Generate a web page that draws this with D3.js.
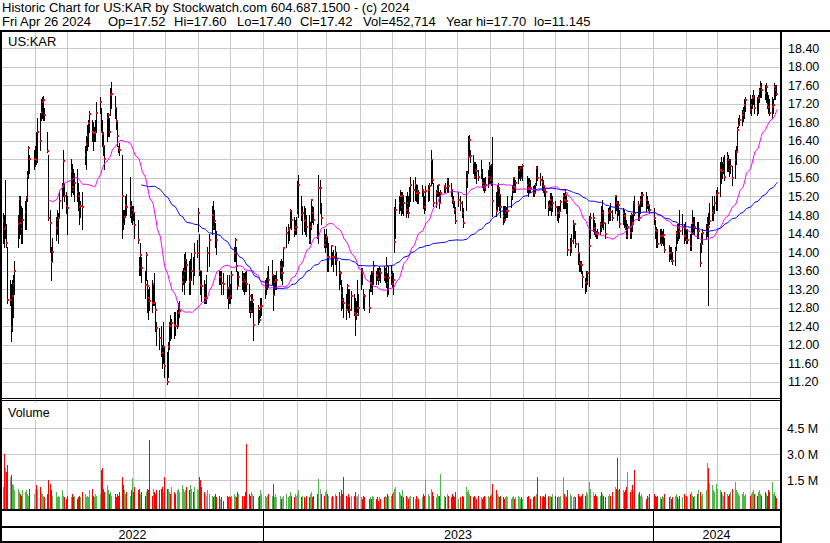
<!DOCTYPE html>
<html><head><meta charset="utf-8">
<script src="https://cdn.jsdelivr.net/npm/d3@7"></script>
<style>
body{margin:0;background:#fff;}
svg{display:block;font-family:"Liberation Sans",Arial,sans-serif;}
</style></head><body>
<svg id="c" width="830" height="543"></svg>
<script>
// ---------- DATA ----------
const holidays = ["2022-05-30","2022-06-20","2022-07-04","2022-09-05","2022-11-24","2022-12-26",
"2023-01-02","2023-01-16","2023-02-20","2023-04-07","2023-05-29","2023-06-19","2023-07-04","2023-09-04","2023-11-23","2023-12-25",
"2024-01-01","2024-01-15","2024-02-19","2024-03-29"];
const firstDay = "2022-05-02", lastDay = "2024-04-26";
const axisStart = "2022-05-01", axisEnd = "2024-04-28";

const highs = [
14.85,14.8,15.56,14.6,14.1,13.4,13.3,13.4,13.5,13.8,14.8,15.2,15.2,15.0,14.95,15.1,15.2,15.75,16.3,16.1,16.2,
16.3,16.6,16.9,17.0,17.3,17.35,17.36,17.1,16.6,16.1,14.9,14.1,14.3,14.75,14.9,14.85,15.3,15.5,16.2,15.5,15.3,
15.2,16.0,15.9,15.8,15.7,15.8,15.5,15.3,15.1,15.3,16.3,16.5,16.75,16.85,17.05,16.85,16.8,16.7,16.85,17.25,
17.35,17.1,16.85,16.6,16.3,17.0,17.0,16.9,17.55,17.68,17.36,17.1,16.8,16.3,16.35,16.1,14.9,14.9,15.2,15.25,15.63,15.1,15.0,
15.0,14.85,14.7,13.9,14.2,13.9,13.6,14.0,13.4,13.2,13.25,13.4,13.3,13.55,12.9,12.5,12.35,12.4,12.0,12.5,11.95,
11.85,12.05,12.5,12.65,12.55,12.7,12.7,12.75,12.9,12.95,13.6,13.65,13.95,14.0,13.84,13.8,13.84,13.98,13.9,14.2,14.26,
14.95,14.4,13.6,13.6,13.4,13.3,13.5,14.1,14.4,15.0,15.1,14.9,14.62,14.45,13.6,13.6,13.6,13.55,13.5,13.2,13.5,
13.3,13.6,14.1,14.3,14.1,13.6,13.56,13.6,13.55,13.55,13.56,13.6,13.3,12.95,13.1,13.1,12.9,12.86,12.75,13.0,13.0,
13.4,13.45,13.6,13.7,13.82,13.5,13.5,13.5,13.6,13.8,13.85,13.8,14.1,14.55,14.6,14.55,14.92,14.9,14.75,14.7,
14.75,15.53,15.67,15.2,15.0,15.0,14.95,14.8,14.8,14.65,15.15,15.0,14.98,14.6,15.67,15.55,15.05,14.5,14.4,
14.5,14.3,14.2,14.15,14.0,14.05,14.12,14.0,13.8,13.6,13.4,13.25,13.0,13.1,13.3,13.2,13.2,13.15,13.1,13.0,12.95,13.4,13.1,
13.65,13.65,13.2,13.1,13.2,13.5,13.6,13.6,13.8,13.6,13.65,13.65,13.7,13.65,13.7,13.65,13.9,13.55,13.7,
13.7,13.6,13.55,14.98,15.15,15.2,15.35,15.3,15.3,15.2,15.2,15.3,15.2,15.4,15.63,15.56,15.63,15.45,15.45,15.35,15.45,15.35,
15.2,15.42,15.45,15.5,16.2,15.98,15.5,15.35,15.45,15.45,15.3,15.34,15.45,15.5,15.6,15.6,15.5,15.35,15.2,15.1,14.98,
15.3,15.2,15.1,14.95,15.75,15.75,16.5,16.52,16.2,16.1,15.95,15.95,15.9,15.78,15.98,15.8,15.6,15.6,15.63,15.78,
15.95,15.85,15.9,16.49,15.3,15.45,15.5,15.4,15.24,15.0,15.0,15.0,14.98,15.2,15.2,15.45,15.63,15.6,15.56,15.85,15.85,15.85,15.85,
15.9,15.65,15.6,15.6,15.55,15.42,15.45,15.5,15.85,15.85,15.7,15.65,15.56,15.4,15.34,15.1,15.13,15.27,15.27,15.2,
15.1,15.0,15.0,15.0,15.13,15.27,15.27,15.34,15.2,15.06,14.3,14.38,14.7,14.62,14.45,14.2,13.95,13.8,13.8,13.6,13.45,13.6,
13.6,14.78,14.85,14.85,14.7,14.62,14.45,14.5,14.65,15.0,15.13,14.9,14.62,14.95,14.98,15.06,14.9,15.24,15.2,15.1,15.1,
14.9,14.95,14.9,14.84,14.7,14.6,14.8,14.84,14.8,15.1,15.2,15.1,15.0,15.2,15.3,15.3,15.3,15.2,15.1,15.0,
14.95,14.7,14.55,14.5,14.5,14.5,14.45,14.5,14.3,14.15,14.1,14.1,14.0,14.1,14.45,14.6,14.6,14.9,14.82,14.6,14.65,
14.5,14.5,14.4,14.6,14.9,14.75,14.75,14.65,14.65,14.2,14.41,14.5,14.6,14.75,14.84,15.06,15.2,15.0,15.2,15.35,
15.4,15.95,16.05,15.95,16.05,16.1,16.15,16.1,16.0,16.0,15.85,16.2,16.3,16.7,16.9,16.96,17.06,17.13,17.3,17.35,
17.4,17.3,17.4,17.5,17.4,17.35,17.4,17.55,17.7,17.65,17.6,17.65,17.45,17.4,17.3,17.35,17.3,17.66,17.6,17.6];

const lows = [
14.2,14.1,14.3,14.1,12.9,12.85,12.07,12.3,12.6,13.1,14.1,14.3,14.4,14.2,14.2,14.5,14.5,15.1,15.6,15.7,15.8,
15.85,15.9,15.95,16.2,16.85,16.9,16.85,16.85,16.15,14.7,14.0,13.4,13.8,14.25,14.4,14.2,14.75,14.95,15.2,15.1,14.85,
14.4,15.2,15.3,15.25,15.1,15.1,14.9,14.6,14.75,14.5,15.9,15.8,16.2,16.3,16.6,16.4,16.2,16.4,16.4,16.6,
17.0,16.6,16.3,16.1,15.8,16.4,16.5,16.5,16.95,17.1,16.9,16.65,16.3,16.15,16.1,14.3,14.5,14.6,14.75,14.8,14.75,14.65,14.6,
14.7,14.3,14.2,13.5,13.5,13.35,13.0,13.4,12.7,12.55,12.75,12.7,12.85,12.85,12.3,12.0,11.9,11.75,11.5,11.6,11.3,
11.15,11.3,11.9,12.1,12.15,12.15,12.2,12.35,12.4,12.6,13.15,13.3,13.1,13.35,13.4,13.1,13.1,13.4,13.3,13.5,13.9,
14.45,13.5,13.1,12.95,12.9,12.9,12.9,13.6,13.7,14.4,14.5,14.5,14.1,13.95,13.3,13.3,13.1,13.1,13.0,12.8,12.9,
12.9,13.0,13.8,13.8,13.6,13.2,13.3,13.2,13.15,13.1,13.15,13.15,12.7,12.6,12.7,12.7,12.1,12.45,12.5,12.6,12.65,
13.0,13.1,13.2,13.25,13.3,12.75,13.1,13.2,13.2,13.45,13.4,13.3,13.7,14.1,14.2,14.25,14.55,14.5,14.35,14.4,
14.4,14.85,14.75,14.7,14.4,14.45,14.4,14.35,14.2,14.2,14.5,14.65,14.6,14.3,14.19,14.85,14.6,14.1,14.0,
14.1,13.6,13.6,13.7,13.75,13.6,13.75,13.5,13.2,13.3,12.75,12.8,12.6,12.55,12.8,12.7,12.6,12.75,12.65,12.21,12.55,12.7,12.65,
13.2,13.3,12.8,12.75,12.7,13.15,13.15,13.1,13.3,13.3,13.4,13.3,13.4,13.35,13.4,13.35,13.25,13.05,13.1,
13.3,13.25,13.1,14.0,14.3,14.85,14.9,14.8,14.85,14.8,14.75,14.85,14.75,15.0,15.1,15.1,15.13,15.1,15.06,15.06,15.2,14.95,
14.84,14.9,15.1,15.13,15.45,15.5,15.0,14.98,15.2,15.2,14.95,15.1,15.3,15.3,15.3,15.3,15.2,15.05,14.98,14.84,14.62,
15.0,14.9,14.75,14.55,14.9,15.4,15.7,16.1,15.95,15.7,15.6,15.6,15.5,15.55,15.6,15.4,15.35,15.3,15.35,15.4,
15.5,15.5,15.45,14.77,14.77,14.9,15.0,14.9,14.75,14.6,14.65,14.7,14.75,14.75,14.98,15.15,15.3,15.3,15.3,15.5,15.6,15.56,15.6,
15.55,15.3,15.2,15.3,15.3,15.2,15.2,15.3,15.45,15.55,15.45,15.35,15.3,15.2,14.95,14.8,14.9,14.9,14.8,14.88,
14.8,14.7,14.65,14.75,14.9,14.95,14.95,14.95,14.85,13.94,13.94,14.0,14.2,14.3,14.1,13.75,13.6,13.6,13.55,13.25,13.11,13.15,
13.3,13.26,14.3,14.45,14.4,14.35,14.3,14.3,14.4,14.45,14.55,14.5,14.3,14.62,14.7,14.7,14.7,14.84,14.9,14.7,14.8,
14.55,14.6,14.55,14.5,14.3,14.3,14.3,14.3,14.45,14.6,14.8,14.7,14.7,14.85,15.0,15.0,14.88,14.95,14.9,14.84,
14.6,14.3,14.1,14.1,14.2,14.15,14.2,14.15,14.0,13.8,13.85,13.8,13.75,13.72,14.05,14.2,14.25,14.3,14.4,14.2,14.25,
14.2,14.2,14.05,14.05,14.4,14.4,14.4,14.3,14.3,13.69,14.0,14.2,14.3,14.35,12.86,14.6,14.7,14.7,14.84,14.9,
14.9,15.2,15.5,15.6,15.7,15.55,15.75,15.75,15.65,15.7,15.45,15.6,15.9,16.2,16.7,16.75,16.75,16.84,16.9,17.05,
17.0,16.95,17.1,17.2,17.0,16.95,17.0,17.25,17.35,17.35,17.3,17.25,17.1,17.0,16.95,16.9,17.0,17.3,17.3,17.4];

const closes = [
14.66,14.5,14.55,14.2,12.97,12.97,12.36,13.04,13.3,13.6,14.6,15.14,14.62,14.5,14.7,14.86,15.16,15.65,16.24,16.0,16.0,
16.0,15.99,16.6,16.4,17.0,17.25,17.29,16.97,16.19,14.73,14.62,13.78,14.0,14.52,14.7,14.73,15.11,15.42,15.96,15.2,15.0,
14.95,15.76,15.4,15.35,15.5,15.3,15.2,14.98,15.0,14.98,16.1,16.33,16.5,16.78,16.98,16.59,16.57,16.58,16.6,17.0,
17.25,16.6,16.55,16.3,16.0,16.9,16.96,16.6,17.39,17.41,17.1,16.82,16.5,16.24,16.2,15.2,14.6,14.75,15.02,14.98,15.0,14.8,14.9,
14.85,14.59,14.26,13.67,13.93,13.65,13.29,13.94,13.26,13.0,12.95,12.9,13.3,12.9,12.75,12.36,12.14,11.96,11.82,11.96,11.53,
11.2,11.96,12.43,12.4,12.46,12.43,12.4,12.43,12.68,12.72,13.36,13.47,13.58,13.83,13.72,13.36,13.4,13.58,13.55,13.98,13.98,
14.84,13.6,13.29,13.26,13.0,13.0,13.0,13.98,14.26,14.8,14.55,14.66,14.4,14.26,13.47,13.47,13.33,13.3,13.22,13.0,13.22,
13.04,13.5,13.98,14.26,13.7,13.26,13.47,13.36,13.47,13.4,13.36,13.3,13.04,12.72,12.97,12.97,12.43,12.79,12.54,12.82,12.84,
13.2,13.3,13.49,13.4,13.5,13.08,13.36,13.4,13.4,13.67,13.55,13.55,14.08,14.41,14.48,14.52,14.88,14.7,14.48,14.55,
14.55,14.91,15.45,14.8,14.84,14.66,14.7,14.55,14.26,14.55,15.13,14.84,14.7,14.33,15.38,15.38,14.73,14.15,14.26,
14.33,13.9,13.9,14.12,13.9,13.9,13.98,13.83,13.55,13.55,13.11,12.97,12.9,12.75,13.26,12.86,12.75,13.04,12.68,12.65,12.65,12.79,12.79,
13.62,13.55,13.08,13.04,12.79,13.33,13.2,13.56,13.7,13.5,13.49,13.42,13.6,13.55,13.47,13.6,13.7,13.33,13.44,
13.5,13.3,13.4,14.21,14.91,15.06,15.2,14.98,15.2,15.06,14.9,15.06,14.84,15.27,15.45,15.35,15.45,15.27,15.31,15.27,15.34,15.3,
14.98,15.31,15.34,15.42,15.98,15.56,15.06,15.27,15.34,15.45,15.06,15.27,15.42,15.38,15.56,15.42,15.34,15.13,15.09,14.91,14.66,
15.13,15.06,14.84,14.62,15.56,15.7,16.05,16.42,16.08,15.92,15.63,15.77,15.74,15.63,15.7,15.49,15.42,15.38,15.45,15.63,
15.85,15.56,15.6,15.1,14.88,15.35,15.38,15.24,14.98,14.77,14.7,14.84,14.88,14.88,15.16,15.35,15.6,15.4,15.5,15.78,15.78,15.81,15.6,
15.85,15.45,15.38,15.49,15.38,15.3,15.27,15.45,15.81,15.6,15.56,15.52,15.42,15.34,15.3,14.98,15.02,15.13,14.98,15.06,
14.98,14.84,14.84,14.88,15.09,15.2,15.13,15.24,15.1,14.05,14.09,14.23,14.61,14.61,14.17,13.98,13.76,13.74,13.72,13.47,13.33,13.36,
13.55,14.14,14.73,14.73,14.52,14.41,14.39,14.41,14.61,14.55,14.84,14.62,14.39,14.84,14.88,14.86,14.73,15.2,15.06,14.84,15.02,
14.61,14.84,14.77,14.53,14.35,14.55,14.41,14.8,14.62,15.05,14.85,15.02,14.73,15.13,15.24,15.24,15.13,15.02,15.02,14.91,
14.73,14.48,14.45,14.17,14.34,14.19,14.34,14.37,14.05,13.98,13.98,13.83,13.8,14.05,14.41,14.34,14.52,14.45,14.55,14.34,14.34,
14.27,14.27,14.12,14.41,14.62,14.41,14.55,14.41,14.45,13.76,14.17,14.41,14.45,14.62,14.55,14.66,14.84,14.88,15.06,15.24,
15.27,15.78,15.74,15.74,15.92,15.63,16.06,15.99,15.77,15.85,15.6,15.99,16.17,16.64,16.75,16.85,16.96,17.03,17.18,17.29,
17.07,17.18,17.32,17.36,17.1,17.03,17.32,17.47,17.57,17.5,17.43,17.57,17.18,17.14,17.0,17.14,17.18,17.57,17.5,17.42];

// volume in millions of shares
const volumes = [
1.1,3.0,2.2,2.0,2.4,1.7,1.8,1.3,1.2,0.9,1.0,0.8,0.7,0.6,0.9,0.8,0.9,0.7,0.6,1.0,0.7,
0.9,1.2,1.0,1.1,0.8,0.7,0.6,0.5,0.7,1.5,1.3,0.9,0.6,0.8,0.5,0.6,0.5,0.9,0.6,0.5,0.4,
0.6,0.5,0.7,0.5,0.6,0.4,0.5,0.6,0.5,0.8,0.7,0.5,0.6,0.5,0.9,1.0,0.6,0.5,0.7,0.6,
0.7,2.1,2.2,1.0,0.8,1.2,0.9,0.7,0.8,0.6,0.7,0.5,0.7,0.6,0.8,1.7,1.2,0.9,0.7,0.8,0.6,0.9,1.6,
0.8,1.1,0.9,1.0,0.7,0.8,0.6,0.8,1.0,0.9,3.8,0.6,1.0,0.8,0.7,0.9,0.9,1.0,1.1,0.8,1.7,
1.0,1.0,0.8,0.7,1.1,0.8,0.7,0.9,1.0,0.8,1.2,1.0,0.8,0.9,1.1,0.9,1.2,1.0,0.8,1.1,1.0,
0.9,1.7,1.5,1.1,0.8,0.7,0.6,0.9,0.7,0.6,0.5,0.6,0.7,0.5,0.6,0.4,0.5,0.3,0.6,0.5,0.6,
0.5,0.6,0.7,0.6,0.5,0.8,0.7,0.6,0.5,0.6,0.8,3.6,0.7,0.6,0.8,0.7,0.6,0.5,0.6,0.9,0.7,
0.6,0.5,0.6,0.7,0.6,1.3,0.5,0.7,0.5,0.6,0.4,0.5,0.6,0.7,0.5,0.6,0.8,0.6,0.5,0.7,
0.6,0.7,0.9,0.5,0.6,0.5,0.4,0.6,0.5,0.7,0.8,0.5,0.6,0.7,1.55,1.0,0.7,0.6,0.8,
0.9,0.7,0.6,0.5,0.6,0.5,0.7,0.6,0.8,0.6,0.9,0.7,1.7,0.6,0.5,0.7,0.5,0.6,0.6,0.8,0.5,0.6,0.7,
0.5,0.4,0.6,0.5,0.4,0.5,0.4,0.6,0.5,0.4,0.5,0.3,0.5,0.4,0.5,0.6,0.5,0.7,0.6,
0.6,0.7,0.8,1.0,1.1,0.8,0.7,0.6,0.9,0.5,0.6,0.5,0.4,0.5,0.6,0.5,0.4,0.6,0.5,0.4,0.5,0.7,
0.6,1.5,0.7,0.6,1.0,0.8,0.6,0.5,0.7,0.6,0.6,1.85,0.6,0.5,0.7,0.6,0.5,0.7,0.6,0.5,0.8,
0.4,0.5,0.6,0.5,1.1,0.8,0.9,0.7,0.6,0.5,0.6,0.5,0.4,0.6,0.5,0.4,0.5,0.6,0.5,0.6,
0.5,0.6,0.7,1.3,0.9,0.7,0.6,0.5,0.6,0.5,0.4,0.5,0.6,0.5,0.4,0.5,0.6,0.4,0.5,0.6,0.5,0.4,0.5,
0.4,0.5,0.6,0.5,0.4,0.5,0.6,0.5,0.7,1.7,0.6,0.5,0.6,0.5,0.7,0.6,0.5,0.6,0.5,0.7,
0.6,0.5,0.6,0.5,0.6,1.7,0.7,0.6,0.5,0.9,0.7,0.6,0.5,0.6,0.5,0.7,0.6,0.5,0.6,0.7,0.6,0.8,
0.7,1.4,1.0,0.8,0.6,0.7,0.6,0.5,0.6,0.8,0.7,0.6,0.5,0.6,0.7,0.6,0.8,1.1,1.0,2.8,0.9,
1.0,0.9,0.8,0.9,1.1,2.0,0.8,0.9,1.2,0.9,2.1,0.7,0.8,0.6,0.7,0.5,0.4,0.6,0.5,0.7,
0.7,0.6,0.5,0.6,0.5,0.4,0.6,0.5,0.7,0.5,0.6,0.4,0.5,0.6,0.7,0.5,0.4,0.6,0.5,0.7,0.6,
0.6,0.5,0.7,0.8,0.6,0.5,0.6,0.7,0.9,0.8,0.6,0.7,0.9,2.5,2.2,1.3,1.2,0.9,0.8,1.3,
1.0,0.9,0.8,0.7,0.6,0.8,0.7,0.6,0.7,0.8,1.0,1.4,0.9,0.8,0.7,0.6,0.7,0.8,0.6,0.7,
0.6,0.7,0.8,0.9,0.7,0.6,0.8,0.9,0.7,0.6,0.8,0.7,0.6,0.9,0.8,1.4,0.7,0.8,0.6,0.45];

const priceTicks = [11.2,11.6,12.0,12.4,12.8,13.2,13.6,14.0,14.4,14.8,15.2,15.6,16.0,16.4,16.8,17.2,17.6,18.0,18.4];
const volumeTicks = [1.5,3.0,4.5];
const yearLabels = ["2022","2023","2024"];
const maShort = 30, maLong = 90;
const headerLine1 = "Historic Chart for US:KAR by Stockwatch.com 604.687.1500 - (c) 2024";
const headerParts = [["Fri Apr 26 2024",2],["Op=17.52",108],["Hi=17.60",174],["Lo=17.40",237],["Cl=17.42",300],["Vol=452,714",363],["Year hi=17.70",446],["lo=11.145",534]];
const symbol = "US:KAR";

// ---------- BUILD ----------
const parse = d3.timeParse("%Y-%m-%d");
const fmt = d3.timeFormat("%Y-%m-%d");
const hol = new Set(holidays);
const days = d3.timeDay.range(parse(firstDay), d3.timeDay.offset(parse(lastDay), 1))
  .filter(d => d.getDay() !== 0 && d.getDay() !== 6 && !hol.has(fmt(d)));
const n = Math.min(closes.length, highs.length, lows.length, volumes.length);
const dates = days.slice(days.length - n);
const data = dates.map((d, i) => ({date: d, h: highs[i], l: lows[i], c: closes[i], v: volumes[i]}));

function sma(p) {
  const out = [];
  let s = 0;
  for (let i = 0; i < data.length; i++) {
    s += data[i].c;
    if (i >= p) s -= data[i - p].c;
    if (i >= p - 1) out.push({date: data[i].date, v: s / p});
  }
  return out;
}

const svg = d3.select("#c");
const X0 = 2, X1 = 780;
const P_TOP = 32, P_BOT = 398, V_TOP = 401, V_BOT = 509;

const x = d3.scaleTime().domain([parse(axisStart), parse(axisEnd)]).range([X0, 779]);
const y = d3.scaleLinear().domain([11.2, 18.4]).range([381.7, 48.3]);
const yv = d3.scaleLinear().domain([0, 4.5]).range([506, 428.4]);
const bx = d => Math.floor(x(d));

// header
svg.append("text").attr("x", 2).attr("y", 12).attr("font-size", 13).attr("fill", "#000").text(headerLine1);
svg.selectAll("text.hp").data(headerParts).join("text").attr("class", "hp")
  .attr("x", d => d[1]).attr("y", 26).attr("font-size", 13).attr("fill", "#000").text(d => d[0]);

// grid
const grid = svg.append("g").attr("stroke", "#c8c8c8").attr("stroke-width", 1).attr("shape-rendering", "crispEdges");
grid.selectAll("line.hp").data(priceTicks).join("line")
  .attr("x1", X0).attr("x2", X1).attr("y1", d => Math.round(y(d)) + 0.5).attr("y2", d => Math.round(y(d)) + 0.5);
grid.selectAll("line.hv").data(volumeTicks).join("line")
  .attr("x1", X0).attr("x2", X1).attr("y1", d => Math.round(yv(d)) + 0.5).attr("y2", d => Math.round(yv(d)) + 0.5);
const months = d3.timeMonth.range(d3.timeMonth.ceil(parse(axisStart)), parse(axisEnd)).slice(1);
grid.selectAll("line.vp").data(months).join("line")
  .attr("x1", d => Math.round(x(d)) + 0.5).attr("x2", d => Math.round(x(d)) + 0.5).attr("y1", P_TOP).attr("y2", P_BOT);
grid.selectAll("line.vv").data(months).join("line")
  .attr("x1", d => Math.round(x(d)) + 0.5).attr("x2", d => Math.round(x(d)) + 0.5).attr("y1", V_TOP).attr("y2", V_BOT);

// price bars: 1px high-low bar plus red close mark; later bars overlap earlier marks
const bars = svg.append("g").attr("shape-rendering", "crispEdges");
const bg = bars.selectAll("g").data(data).join("g");
bg.append("rect")
  .attr("x", d => bx(d.date)).attr("y", d => Math.round(y(d.h)))
  .attr("width", 1).attr("height", d => Math.max(1, Math.round(y(d.l)) - Math.round(y(d.h)) + 1))
  .attr("fill", "#000");
bg.append("rect")
  .attr("x", d => bx(d.date)).attr("y", d => Math.round(y(d.c)) - 1)
  .attr("width", 2).attr("height", 2).attr("fill", "#ff0000");

// moving averages
const line = d3.line().x(d => x(d.date) + 0.5).y(d => y(d.v));
svg.append("path").datum(sma(maShort)).attr("d", line).attr("fill", "none").attr("stroke", "#ff00ff").attr("stroke-width", 1);
svg.append("path").datum(sma(maLong)).attr("d", line).attr("fill", "none").attr("stroke", "#0000ff").attr("stroke-width", 1);

// volume bars
const vcol = (d, i) => i === 0 ? "#50b848" : (d.c > data[i - 1].c ? "#50b848" : (d.c < data[i - 1].c ? "#ff0000" : "#a0a0a0"));
svg.append("g").attr("shape-rendering", "crispEdges").selectAll("rect").data(data).join("rect")
  .attr("x", d => bx(d.date)).attr("y", d => Math.round(yv(d.v)))
  .attr("width", 1).attr("height", d => V_BOT - Math.round(yv(d.v)))
  .attr("fill", (d, i) => vcol(d, i));

// right axis labels
const pAxis = d3.axisRight(y).tickValues(priceTicks).tickFormat(d3.format(".2f")).tickSize(0).tickPadding(6);
const pa = svg.append("g").attr("transform", `translate(${X1 + 2},0)`).call(pAxis);
pa.select(".domain").remove();
pa.selectAll("text").attr("font-size", 12.5).attr("font-family", "Liberation Sans, Arial, sans-serif").attr("fill", "#000");

const vAxis = d3.axisRight(yv).tickValues(volumeTicks).tickFormat(d => d.toFixed(1) + " M").tickSize(0).tickPadding(5);
const va = svg.append("g").attr("transform", `translate(${X1 + 2},0)`).call(vAxis);
va.select(".domain").remove();
va.selectAll("text").attr("font-size", 12.5).attr("font-family", "Liberation Sans, Arial, sans-serif").attr("fill", "#000");

// panel labels
svg.append("text").attr("x", 8).attr("y", 46).attr("font-size", 13).text(symbol);
svg.append("rect").attr("x", 3).attr("y", 403).attr("width", 54).attr("height", 17).attr("fill", "#fff");
svg.append("text").attr("x", 8).attr("y", 417).attr("font-size", 12.5).text("Volume");

// frame
const frame = svg.append("g").attr("fill", "#000").attr("shape-rendering", "crispEdges");
frame.append("rect").attr("x", 0).attr("y", 30).attr("width", 830).attr("height", 2);
frame.append("rect").attr("x", 0).attr("y", 30).attr("width", 2).attr("height", 513);
frame.append("rect").attr("x", X1).attr("y", 30).attr("width", 2).attr("height", 513);
frame.append("rect").attr("x", 0).attr("y", P_BOT).attr("width", X1).attr("height", 1);
frame.append("rect").attr("x", 0).attr("y", V_TOP - 1).attr("width", X1).attr("height", 1);
frame.append("rect").attr("x", 0).attr("y", V_BOT).attr("width", X1 + 2).attr("height", 2);
frame.append("rect").attr("x", 0).attr("y", 526).attr("width", X1 + 2).attr("height", 2);
frame.append("rect").attr("x", 0).attr("y", 541).attr("width", X1 + 2).attr("height", 2);

// year axis
const yearStarts = yearLabels.map(s => parse(s + "-01-01"));
const bounds = [X0].concat(yearStarts.slice(1).map(d => Math.round(x(d)))).concat([X1]);
frame.selectAll("rect.ys").data(yearStarts.slice(1)).join("rect")
  .attr("x", d => Math.round(x(d))).attr("y", V_BOT).attr("width", 1).attr("height", 34);
svg.selectAll("text.yr").data(yearLabels).join("text").attr("class", "yr")
  .attr("x", (d, i) => (bounds[i] + bounds[i + 1]) / 2).attr("y", 539)
  .attr("text-anchor", "middle").attr("font-size", 12.5).text(d => d);
</script>
</body></html>
